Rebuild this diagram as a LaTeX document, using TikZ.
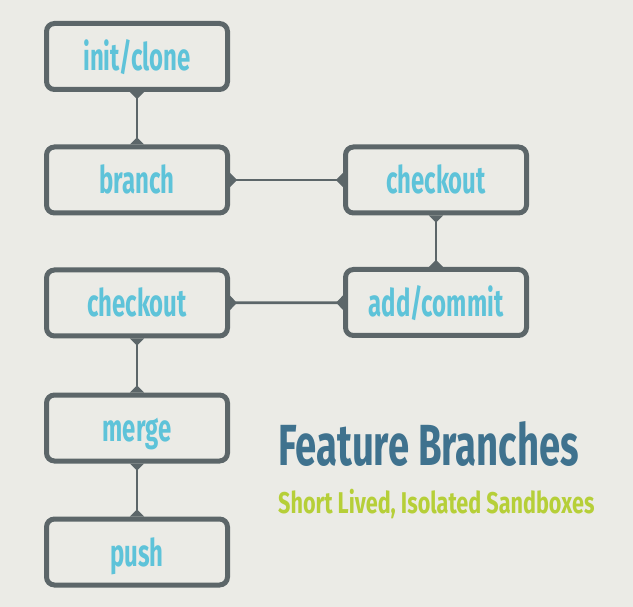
\documentclass[tikz,border=0pt]{standalone}
\usepackage{fontspec}
\usetikzlibrary{arrows.meta}
\newfontfamily\condfont{Fira Sans}[FakeStretch=0.63]
\newfontfamily\titlefont{Fira Sans}[FakeStretch=0.66]
\newfontfamily\subfont{Fira Sans}[FakeStretch=0.72]
\definecolor{bgcol}{HTML}{EBEBE6}
\definecolor{framecol}{HTML}{5C6669}
\definecolor{stepcol}{HTML}{5EC3D9}
\definecolor{titlecol}{HTML}{3F728E}
\definecolor{subcol}{HTML}{B6CF38}
\begin{document}
\begin{tikzpicture}[x=1pt,y=1pt,
  stepbox/.style={draw=framecol, line width=5pt, rounded corners=8pt,
    minimum width=181pt, minimum height=66pt, inner sep=0pt,
    text height=28pt, text depth=0pt,
    text=stepcol, font=\condfont\bfseries\fontsize{38}{40}\selectfont},
  link/.style={draw=framecol, line width=2.7pt,
    {Triangle[reversed,width=14pt,length=7pt]}-{Triangle[reversed,width=14pt,length=7pt]}}]
  % canvas
  \fill[bgcol] (0,0) rectangle (633,-607);
  \useasboundingbox (0,0) rectangle (633,-607);

  % workflow steps
  \node[stepbox] (init)      at (137,-56.5)  {init/clone};
  \node[stepbox] (branch)    at (137,-180)   {branch};
  \node[stepbox] (checkoutB) at (436,-180)   {checkout};
  \node[stepbox] (commit)    at (436,-302.5) {add/commit};
  \node[stepbox] (checkoutA) at (137,-303)   {checkout};
  \node[stepbox] (merge)     at (137,-428)   {merge};
  \node[stepbox] (push)      at (137,-552)   {push};

  % connectors
  \draw[link] (init) -- (branch);
  \draw[link] (branch) -- (checkoutB);
  \draw[link] (checkoutB) -- (commit);
  \draw[link] (commit) -- (checkoutA);
  \draw[link] (checkoutA) -- (merge);
  \draw[link] (merge) -- (push);

  % caption
  \node[anchor=base west, inner sep=0pt, text=titlecol,
    font=\titlefont\bfseries\fontsize{58}{60}\selectfont] (title) at (278,-465) {Feature Branches};
  \node[anchor=base west, inner sep=0pt, text=subcol,
    font=\subfont\bfseries\fontsize{30}{32}\selectfont] (subtitle) at (278,-513) {Short Lived, Isolated Sandboxes};
\end{tikzpicture}
\end{document}
